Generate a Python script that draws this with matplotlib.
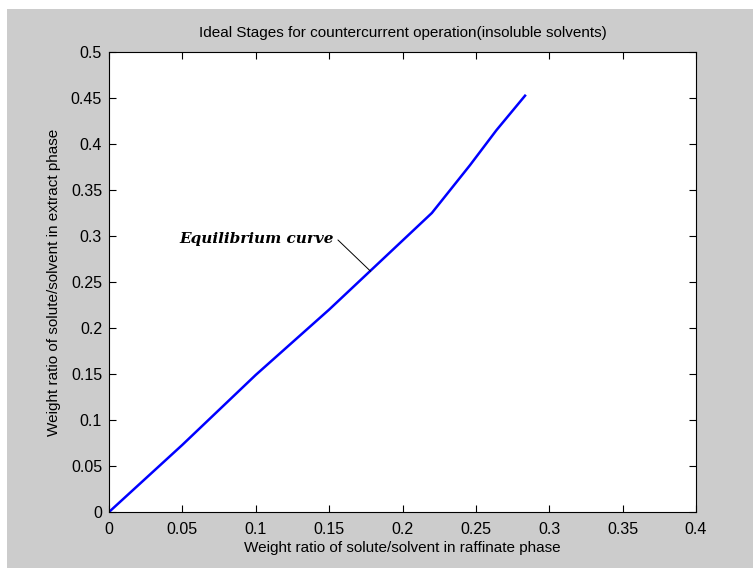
import numpy as np
import matplotlib.pyplot as plt
from matplotlib.patches import Rectangle
from matplotlib.ticker import FixedLocator, FormatStrFormatter

# equilibrium data (raffinate X, extract Y)
X_RAFF = [0.0, 0.05, 0.10, 0.15, 0.20, 0.22, 0.246, 0.264, 0.2835]
Y_EXTR = [0.0, 0.073, 0.149, 0.220, 0.295, 0.325, 0.377, 0.415, 0.4525]

X_TICKS = [0, 0.05, 0.1, 0.15, 0.2, 0.25, 0.3, 0.35, 0.4]
Y_TICKS = [0, 0.05, 0.1, 0.15, 0.2, 0.25, 0.3, 0.35, 0.4, 0.45, 0.5]

TITLE = "Ideal Stages for countercurrent operation(insoluble solvents)"
XLABEL = "Weight ratio of solute/solvent in raffinate phase"
YLABEL = "Weight ratio of solute/solvent in extract phase"

FONT = ["Liberation Sans", "DejaVu Sans"]

W, H = 753, 568
fig = plt.figure(figsize=(W / 100, H / 100), dpi=100, facecolor="white")
# matlab grey figure area, slightly inset from the top/left
fig.patches.append(Rectangle((7 / W, 0), 1 - 7 / W, 1 - 9 / H, transform=fig.transFigure,
                             facecolor="#cccccc", edgecolor="none", zorder=-10))

ax = fig.add_axes([109 / W, 1 - 512 / H, (696 - 109) / W, (512 - 52) / H])
ax.plot(X_RAFF, Y_EXTR, color="#0000ff", lw=1.8)

ax.set_xlim(0, 0.4)
ax.set_ylim(0, 0.5)
ax.xaxis.set_major_locator(FixedLocator(X_TICKS))
ax.yaxis.set_major_locator(FixedLocator(Y_TICKS))
ax.xaxis.set_major_formatter(FormatStrFormatter("%g"))
ax.yaxis.set_major_formatter(FormatStrFormatter("%g"))
ax.tick_params(direction="in", length=5, width=0.8, top=True, right=True,
               labelsize=11.5)
ax.tick_params(axis="x", pad=7)
ax.tick_params(axis="y", pad=5)
for lab in ax.get_xticklabels() + ax.get_yticklabels():
    lab.set_family(FONT)
for sp in ax.spines.values():
    sp.set_linewidth(0.8)

ax.set_title(TITLE, family=FONT, fontsize=11, pad=11)
ax.set_xlabel(XLABEL, family=FONT, fontsize=11, labelpad=3)
ax.set_ylabel(YLABEL, family=FONT, fontsize=11, labelpad=7)

# leader line from the label to the curve
ax.annotate("", xy=(0.1783, 0.2616), xytext=(0.156, 0.2957),
            arrowprops=dict(arrowstyle="-", lw=0.7, color="black", shrinkA=0, shrinkB=0))
ax.text(0.1535, 0.2965, "Equilibrium curve", ha="right", va="center",
        fontsize=11, fontweight="bold", fontstyle="italic",
        family=["DejaVu Serif", "Liberation Serif"])

fig.savefig("out.png", dpi=100, facecolor=fig.get_facecolor())
